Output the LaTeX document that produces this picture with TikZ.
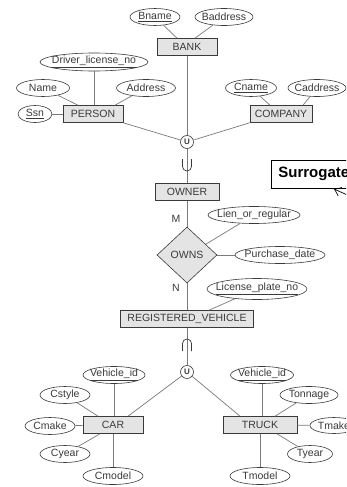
\documentclass[tikz,border=0pt]{standalone}
\usepackage{fontspec}
\setmainfont{Liberation Sans}
\usetikzlibrary{shapes.geometric, arrows.meta, calc}
\definecolor{boxfill}{HTML}{E4E4E4}
\definecolor{ink}{HTML}{3A3A3A}
\definecolor{wire}{HTML}{7A7A7A}

\begin{document}
\begin{tikzpicture}[x=1pt, y=-1pt,
  every node/.style={font=\fontsize{10.5}{12}\selectfont, text=ink},
  entity/.style={rectangle, draw=ink, fill=boxfill, inner sep=0pt,
    minimum height=17pt, line width=0.6pt},
  attr/.style={ellipse, draw=ink, fill=white, inner sep=0pt,
    minimum height=17pt, line width=0.6pt,
    execute at begin node={\hbox to 0pt\bgroup\hss},
    execute at end node={\hss\egroup}},
  rel/.style={diamond, draw=ink, fill=boxfill, inner sep=0pt,
    minimum width=60pt, minimum height=56pt, line width=0.6pt},
  union/.style={circle, draw=ink, fill=white, inner sep=0pt,
    minimum size=13pt, line width=0.6pt,
    font=\fontsize{8}{9}\selectfont\bfseries},
  link/.style={draw=wire, line width=0.7pt},
  subsetmark/.style={draw=ink, line width=0.7pt},
  note/.style={rectangle, draw=black, fill=white, line width=0.8pt,
    inner xsep=7pt, inner ysep=0pt, anchor=west, text=black,
    text width=100pt, align=left,
    font=\fontsize{15}{17}\selectfont\bfseries},
]
\clip (0,0) rectangle (346,487);
\fill[white] (0,0) rectangle (346,487);

% ---- BANK ----
\node[attr, minimum width=50pt] (bname) at (155,17) {\underline{Bname}};
\node[attr, minimum width=58pt] (baddr) at (224,17) {Baddress};
\node[entity, minimum width=60pt] (bank) at (187,47) {BANK};

% ---- PERSON ----
\node[attr, minimum width=108pt, minimum height=18pt] (dln) at (94,62) {\underline{Driver\_license\_no}};
\node[attr, minimum width=53pt] (name) at (43,88) {Name};
\node[attr, minimum width=59pt] (paddr) at (146,88) {Address};
\node[attr, minimum width=34pt] (ssn) at (35,114) {\underline{Ssn}};
\node[entity, minimum width=60pt] (person) at (93,114) {PERSON};

% ---- COMPANY ----
\node[attr, minimum width=51pt] (cname) at (251,88) {\underline{Cname}};
\node[attr, minimum width=58pt] (caddr) at (317,88) {Caddress};
\node[entity, minimum width=62pt] (company) at (281,114) {COMPANY};

% ---- union into OWNER ----
\node[union] (u1) at (187,142) {U};
\node[entity, minimum width=64pt] (owner) at (187,192) {OWNER};

% ---- OWNS relationship ----
\node[rel] (owns) at (187,255) {OWNS};
\node (m) at (176,219) {M};
\node (n) at (176,288) {N};
\node[attr, minimum width=92pt] (lien) at (254,215) {Lien\_or\_regular};
\node[attr, minimum width=90pt] (pdate) at (280,255) {Purchase\_date};
\node[attr, minimum width=100pt, minimum height=21pt] (lpn) at (257,289) {\underline{License\_plate\_no}};
\node[entity, minimum width=133pt] (rv) at (187,319) {REGISTERED\_VEHICLE};

% ---- union into CAR / TRUCK ----
\node[union] (u2) at (187,372) {U};

\node[entity, minimum width=60pt] (car) at (113,425) {CAR};
\node[attr, minimum width=62pt] (cvid) at (114,375) {\underline{Vehicle\_id}};
\node[attr, minimum width=50pt] (cstyle) at (65,395) {Cstyle};
\node[attr, minimum width=50pt] (cmake) at (50,426) {Cmake};
\node[attr, minimum width=50pt] (cyear) at (65,454) {Cyear};
\node[attr, minimum width=60pt] (cmodel) at (113,476) {Cmodel};

\node[entity, minimum width=74pt] (truck) at (260,425) {TRUCK};
\node[attr, minimum width=63pt] (tvid) at (262,375) {\underline{Vehicle\_id}};
\node[attr, minimum width=58pt] (tonnage) at (309,395) {Tonnage};
\node[attr, minimum width=48pt, minimum height=16pt] (tmake) at (334,425.5) {Tmake};
\node[attr, minimum width=45pt] (tyear) at (310,454) {Tyear};
\node[attr, minimum width=60pt] (tmodel) at (260,476) {Tmodel};

% ---- annotation ----
\node[note, minimum height=28pt] (surr) at (271,174) {Surrogate};
\coordinate (surrtail) at (372,206);
\coordinate (surrtip) at (334,189);

% ---- connectors ----
\draw[link] (bname) -- ([xshift=-10pt]bank.north);
\draw[link] (baddr) -- ([xshift=8pt]bank.north);
\draw[link] (bank) -- (u1);

\draw[link] (dln) -- (dln.south |- person.north);
\draw[link] (name) -- ([xshift=-15pt]person.north);
\draw[link] (paddr) -- ([xshift=22pt]person.north);
\draw[link] (ssn) -- (person);

\draw[link] (cname) -- ([xshift=-11pt]company.north);
\draw[link] (caddr) -- ([xshift=22pt]company.north);

\draw[link] (person.south east) -- (u1);
\draw[link] (company.south west) -- (u1);
\draw[link] (u1) -- (owner);

\draw[link] (owner) -- (owns);
\draw[link] (lien) -- ($(owns.north)!0.62!(owns.east)$);
\draw[link] (owns) -- (pdate);
\draw[link] (owns) -- (rv);
\draw[link] (lpn) -- ([xshift=22pt]rv.north);

\draw[link] (rv) -- (u2);
\draw[link] (u2) -- ([xshift=15pt]car.north);
\draw[link] (u2) -- ([xshift=-20pt]truck.north);

\draw[link] (cvid) -- (cvid.south |- car.north);
\draw[link] (cstyle) -- ([xshift=-15pt]car.north);
\draw[link] (cmake) -- (car);
\draw[link] (cyear) -- ([xshift=-13pt]car.south);
\draw[link] (cmodel) -- (car);

\draw[link] (tvid) -- (tvid.south |- truck.north);
\draw[link] (tonnage) -- ([xshift=15pt]truck.north);
\draw[link] (tmake) -- (truck);
\draw[link] (tyear) -- ([xshift=17pt]truck.south);
\draw[link] (tmodel) -- (truck);

% subset marks on the category links
\coordinate (cupc) at (187,165);
\draw[subsetmark] ([xshift=-4.5pt,yshift=6pt]cupc) -- ([xshift=-4.5pt,yshift=-1.5pt]cupc)
  arc[start angle=180, end angle=360, radius=4.5pt] -- ([xshift=4.5pt,yshift=6pt]cupc);
\coordinate (capc) at (187,345);
\draw[subsetmark] ([xshift=-4.5pt,yshift=-6pt]capc) -- ([xshift=-4.5pt,yshift=1.5pt]capc)
  arc[start angle=180, end angle=0, radius=4.5pt] -- ([xshift=4.5pt,yshift=-6pt]capc);

\draw[black, line width=0.7pt, -{Straight Barb[length=6pt, width=9pt]}] (surrtail) -- (surrtip);
\end{tikzpicture}
\end{document}
